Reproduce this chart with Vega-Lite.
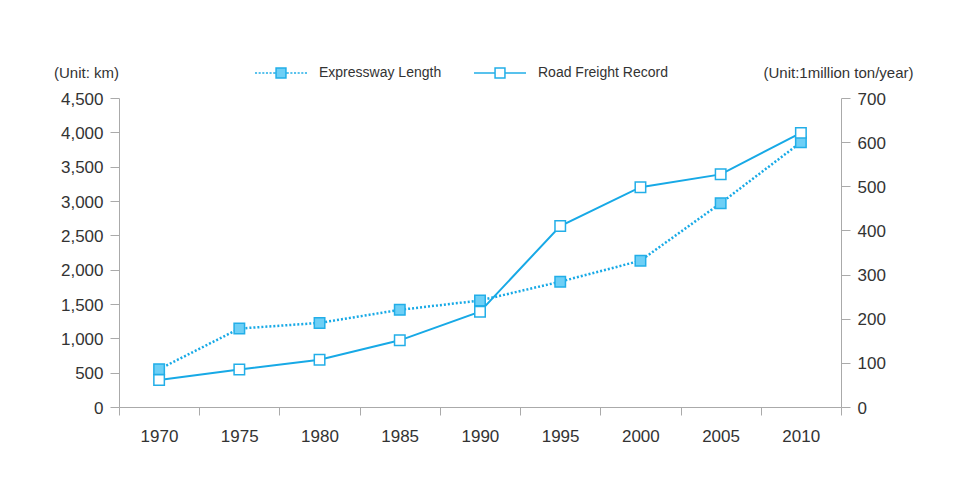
{
  "$schema": "https://vega.github.io/schema/vega-lite/v6.json",
  "width": 722,
  "height": 309,
  "autosize": {"type": "none"},
  "padding": {"left": 119, "top": 98, "right": 123, "bottom": 94},
  "background": "#ffffff",
  "config": {
    "view": {"stroke": null},
    "font": "Liberation Sans",
    "axis": {
      "domainColor": "#aaaaaa",
      "tickColor": "#aaaaaa",
      "labelColor": "#333333",
      "titleColor": "#333333",
      "labelFont": "Liberation Sans",
      "titleFont": "Liberation Sans",
      "titleFontWeight": "normal",
      "grid": false
    }
  },
  "data": {
    "values": [
      {"year": 1970, "series": "Expressway Length", "value": 551},
      {"year": 1975, "series": "Expressway Length", "value": 1142},
      {"year": 1980, "series": "Expressway Length", "value": 1225},
      {"year": 1985, "series": "Expressway Length", "value": 1415},
      {"year": 1990, "series": "Expressway Length", "value": 1551},
      {"year": 1995, "series": "Expressway Length", "value": 1825},
      {"year": 2000, "series": "Expressway Length", "value": 2131},
      {"year": 2005, "series": "Expressway Length", "value": 2968},
      {"year": 2010, "series": "Expressway Length", "value": 3855},
      {"year": 1970, "series": "Road Freight Record", "value": 61},
      {"year": 1975, "series": "Road Freight Record", "value": 85},
      {"year": 1980, "series": "Road Freight Record", "value": 107},
      {"year": 1985, "series": "Road Freight Record", "value": 151},
      {"year": 1990, "series": "Road Freight Record", "value": 216},
      {"year": 1995, "series": "Road Freight Record", "value": 410},
      {"year": 2000, "series": "Road Freight Record", "value": 498},
      {"year": 2005, "series": "Road Freight Record", "value": 527},
      {"year": 2010, "series": "Road Freight Record", "value": 621}
    ]
  },
  "encoding": {
    "x": {
      "field": "year",
      "type": "quantitative",
      "scale": {"domain": [1967.5, 2012.5], "nice": false, "zero": false},
      "axis": {
        "title": null,
        "values": [1967.5, 1972.5, 1977.5, 1982.5, 1987.5, 1992.5, 1997.5, 2002.5, 2007.5, 2012.5],
        "labelExpr": "datum.value < 2010 ? '' + (datum.value + 2.5) : ''",
        "labelOffset": 40,
        "labelFlush": false,
        "labelOverlap": false,
        "labelBound": false,
        "labelFontSize": 17,
        "labelPadding": 13,
        "tickSize": 8
      }
    }
  },
  "layer": [
    {
      "transform": [{"filter": "datum.series == 'Expressway Length'"}],
      "encoding": {
        "y": {
          "field": "value",
          "type": "quantitative",
          "scale": {"domain": [0, 4500], "nice": false},
          "axis": {
            "values": [0, 500, 1000, 1500, 2000, 2500, 3000, 3500, 4000, 4500],
            "format": ",d",
            "labelFontSize": 17,
            "labelPadding": 7,
            "labelOffset": 1,
            "tickSize": 9,
            "title": "(Unit:  km)",
            "titleAngle": 0,
            "titleX": -33,
            "titleY": -26,
            "titleAlign": "center",
            "titleBaseline": "middle",
            "titleFontSize": 15
          }
        }
      },
      "layer": [
        {
          "mark": {"type": "line", "color": "#17a9e6", "strokeWidth": 2.5, "strokeDash": [2, 2], "strokeCap": "butt"}
        },
        {
          "mark": {"type": "point", "shape": "square", "filled": true, "size": 110, "opacity": 1, "stroke": "#22aee8", "strokeWidth": 1.5},
          "encoding": {
            "fill": {
              "field": "series",
              "type": "nominal",
              "scale": {"domain": ["Expressway Length", "Road Freight Record"], "range": ["#6dcff6", "#ffffff"]},
              "legend": {
                "orient": "none",
                "legendX": 135,
                "legendY": -52,
                "direction": "horizontal",
                "title": null,
                "padding": 0,
                "symbolSize": 2704,
                "symbolStrokeColor": "#22aee8",
                "symbolStrokeWidth": 1.5,
                "symbolOpacity": 1,
                "labelFontSize": 14,
                "labelColor": "#333333",
                "labelFont": "Liberation Sans",
                "labelOffset": 11,
                "columnPadding": 29,
                "encode": {
                  "symbols": {
                    "update": {
                      "shape": {"signal": "datum.value == 'Expressway Length' ? 'M-1,0H-0.92M-0.86,0H-0.78M-0.72,0H-0.64M-0.58,0H-0.5M-0.44,0H-0.36M-0.3,0H-0.22M-0.19,-0.19H0.19V0.19H-0.19ZM0.22,0H0.3M0.36,0H0.44M0.5,0H0.58M0.64,0H0.72M0.78,0H0.86M0.92,0H1' : 'M-1,0H-0.19M-0.19,-0.19H0.19V0.19H-0.19ZM0.19,0H1'"}
                    }
                  }
                }
              }
            }
          }
        }
      ]
    },
    {
      "transform": [{"filter": "datum.series == 'Road Freight Record'"}],
      "encoding": {
        "y": {
          "field": "value",
          "type": "quantitative",
          "scale": {"domain": [0, 700], "nice": false},
          "axis": {
            "orient": "right",
            "values": [0, 100, 200, 300, 400, 500, 600, 700],
            "format": "d",
            "labelFontSize": 17,
            "labelPadding": 7,
            "labelOffset": 1,
            "tickSize": 9,
            "title": "(Unit:1million ton/year)",
            "titleAngle": 0,
            "titleX": -3,
            "titleY": -26,
            "titleAlign": "center",
            "titleBaseline": "middle",
            "titleFontSize": 15
          }
        }
      },
      "layer": [
        {
          "mark": {"type": "line", "color": "#17a9e6", "strokeWidth": 2}
        },
        {
          "mark": {"type": "point", "shape": "square", "filled": true, "size": 110, "opacity": 1, "stroke": "#22aee8", "strokeWidth": 1.5},
          "encoding": {
            "fill": {
              "field": "series",
              "type": "nominal",
              "scale": {"domain": ["Expressway Length", "Road Freight Record"], "range": ["#6dcff6", "#ffffff"]},
              "legend": {
                "orient": "none",
                "legendX": 135,
                "legendY": -52,
                "direction": "horizontal",
                "title": null,
                "padding": 0,
                "symbolSize": 2704,
                "symbolStrokeColor": "#22aee8",
                "symbolStrokeWidth": 1.5,
                "symbolOpacity": 1,
                "labelFontSize": 14,
                "labelColor": "#333333",
                "labelFont": "Liberation Sans",
                "labelOffset": 11,
                "columnPadding": 29,
                "encode": {
                  "symbols": {
                    "update": {
                      "shape": {"signal": "datum.value == 'Expressway Length' ? 'M-1,0H-0.92M-0.86,0H-0.78M-0.72,0H-0.64M-0.58,0H-0.5M-0.44,0H-0.36M-0.3,0H-0.22M-0.19,-0.19H0.19V0.19H-0.19ZM0.22,0H0.3M0.36,0H0.44M0.5,0H0.58M0.64,0H0.72M0.78,0H0.86M0.92,0H1' : 'M-1,0H-0.19M-0.19,-0.19H0.19V0.19H-0.19ZM0.19,0H1'"}
                    }
                  }
                }
              }
            }
          }
        }
      ]
    }
  ],
  "resolve": {"scale": {"y": "independent"}}
}
